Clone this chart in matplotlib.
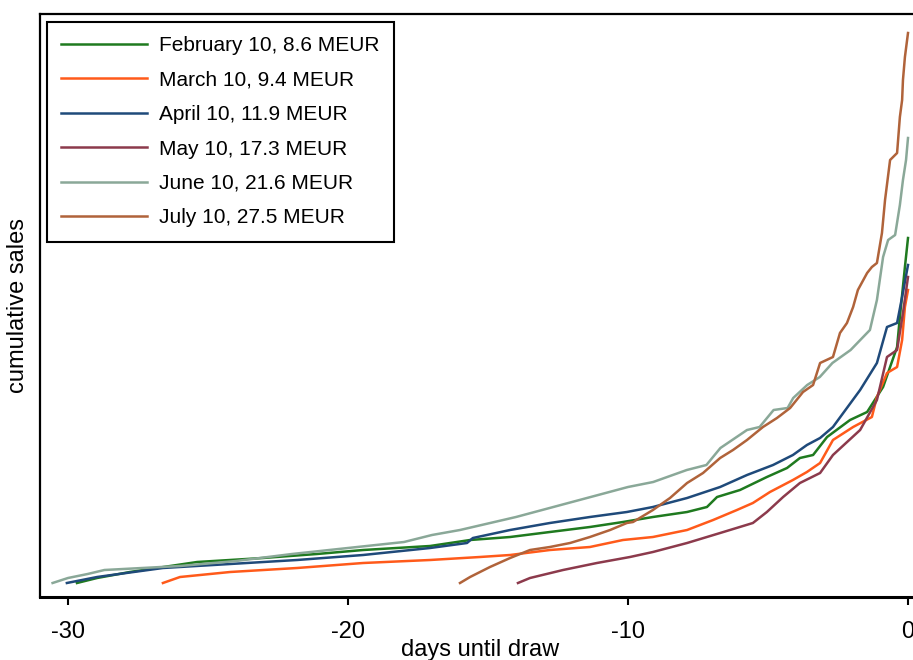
import matplotlib
matplotlib.use("Agg")
import matplotlib.pyplot as plt

plt.rcParams['font.family'] = ['Liberation Sans', 'DejaVu Sans']

# days until draw / cumulative sales (index units) per draw
feb_days = [-29.68, -28.96, -27.79, -25.39, -23.04, -21.11, -19.46, -17.07, -15.64, -14.21,
            -12.79, -11.36, -10.18, -9.11, -7.89, -7.18, -6.82, -6.0, -5.04, -4.32,
            -3.86, -3.39, -2.89, -2.07, -1.46, -0.89, -0.64, -0.39, -0.29, -0.11, 0.0]
feb_sales = [14, 19, 25, 35, 39, 43, 47, 51, 57, 60,
             65, 70, 75, 80, 85, 90, 100, 107, 120, 129,
             139, 142, 160, 177, 185, 210, 230, 250, 280, 330, 359]

mar_days = [-26.61, -26.0, -24.21, -21.82, -19.46, -17.07, -15.29, -14.21, -12.79, -11.36,
            -10.18, -9.11, -7.89, -6.96, -6.11, -5.54, -4.93, -4.11, -3.61, -3.14,
            -2.68, -1.96, -1.29, -1.11, -0.75, -0.39, -0.21, -0.11, 0.0]
mar_sales = [14, 20, 25, 29, 34, 37, 40, 42, 47, 50,
             57, 60, 67, 77, 87, 94, 105, 117, 125, 134,
             157, 170, 180, 200, 224, 230, 257, 290, 307]

apr_days = [-30.04, -28.96, -26.61, -24.21, -21.82, -19.46, -17.07, -15.75, -15.54, -14.21,
            -12.79, -11.36, -10.04, -9.11, -7.89, -6.71, -5.75, -4.82, -4.11, -3.61,
            -3.14, -2.68, -1.71, -1.11, -0.75, -0.39, -0.21, 0.0]
apr_sales = [14, 20, 29, 33, 37, 42, 49, 54, 59, 67,
             74, 80, 85, 90, 99, 110, 122, 132, 142, 152,
             159, 170, 207, 234, 270, 274, 300, 332]

may_days = [-13.93, -13.5, -12.32, -11.11, -9.93, -9.11, -7.89, -6.71, -5.54, -5.04,
            -4.46, -3.86, -3.14, -2.68, -1.71, -1.11, -0.75, -0.39, -0.18, 0.0]
may_sales = [14, 19, 27, 34, 40, 45, 54, 64, 74, 85,
             100, 114, 124, 142, 167, 197, 240, 247, 284, 320]

jun_days = [-30.55, -30.0, -29.3, -28.7, -26.0, -24.0, -22.0, -20.0, -18.0, -17.0, -16.0,
            -14.0, -12.0, -10.0, -9.1, -7.9, -7.2, -6.7, -5.75, -5.3, -4.8,
            -4.3, -4.1, -3.6, -3.15, -2.7, -2.05, -1.36, -1.11, -0.89, -0.71,
            -0.46, -0.29, -0.18, -0.07, 0.0]
jun_sales = [14, 19, 23, 27, 31, 36, 43, 49, 55, 62, 67,
             80, 95, 110, 115, 127, 132, 149, 167, 170, 187,
             189, 199, 212, 220, 234, 247, 267, 297, 340, 357,
             362, 392, 417, 437, 459]

jul_days = [-16.0, -15.64, -14.93, -14.21, -13.5, -12.79, -12.07, -11.36, -10.64, -10.04,
            -9.82, -9.11, -8.5, -7.89, -7.32, -6.71, -6.25, -5.75, -5.18, -4.68,
            -4.21, -3.75, -3.39, -3.14, -2.68, -2.43, -2.18, -1.96, -1.79, -1.46,
            -1.29, -1.11, -0.93, -0.82, -0.64, -0.39, -0.29, -0.21, -0.18, -0.11, 0.0]
jul_sales = [14, 20, 30, 39, 47, 50, 54, 60, 67, 74,
             75, 87, 99, 114, 124, 139, 147, 157, 170, 179,
             189, 205, 212, 234, 240, 264, 274, 290, 307, 324,
             330, 334, 364, 397, 437, 444, 480, 497, 517, 540, 564]

labels = ["February 10, 8.6 MEUR", "March 10, 9.4 MEUR", "April 10, 11.9 MEUR",
          "May 10, 17.3 MEUR", "June 10, 21.6 MEUR", "July 10, 27.5 MEUR"]
colors = ["#1f7a1f", "#ff5a1a", "#1f4a7a", "#8c3a4c", "#8aa898", "#b0633a"]

series = [(feb_days, feb_sales), (mar_days, mar_sales), (apr_days, apr_sales),
          (may_days, may_sales), (jun_days, jun_sales), (jul_days, jul_sales)]

fig = plt.figure(figsize=(9.13, 6.60), dpi=100)
ax = fig.add_axes([40 / 913, 63 / 660, 873.6 / 913, 583 / 660])

for (d, s), lab, c in zip(series, labels, colors):
    ax.plot(d, s, color=c, lw=1.8, label=lab)

ax.set_xlim(-31.0, 0.2)
ax.set_ylim(0, 583)
ax.set_xticks([-30, -20, -10, 0])
ax.set_xticklabels(["-30", "-20", "-10", "0"])
ax.set_yticks([])
ax.tick_params(axis='x', direction='out', length=6, width=1.5, labelsize=17, pad=11)

for side in ['left', 'top', 'bottom']:
    ax.spines[side].set_linewidth(1.6)
    ax.spines[side].set_color('black')
ax.spines['bottom'].set_linewidth(2.2)
ax.spines['right'].set_visible(False)

ax.set_ylabel("cumulative sales", fontsize=17, labelpad=8)
fig.text(480 / 913, 10 / 660, "days until draw", fontsize=17, ha='center', va='center')

leg = ax.legend(loc='upper left', bbox_to_anchor=(0.008, 0.986), borderaxespad=0,
                fontsize=15, handlelength=4.1, handletextpad=0.62, labelspacing=0.74,
                borderpad=0.68, fancybox=False, framealpha=1, edgecolor='black')
leg.get_frame().set_linewidth(1.5)

fig.savefig("out.png", dpi=100)
